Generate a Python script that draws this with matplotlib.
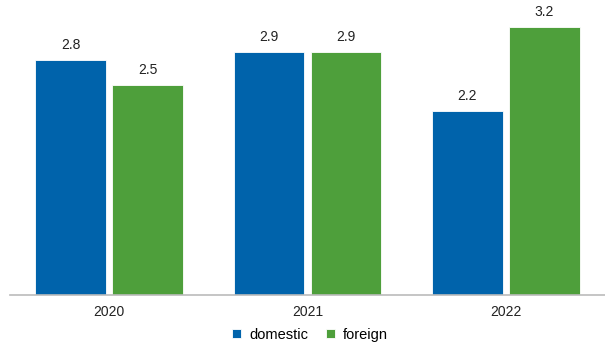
import numpy as np
import matplotlib as mpl
mpl.use('Agg')
import matplotlib.pyplot as plt

years = ['2020', '2021', '2022']
domestic = [2.8, 2.9, 2.2]
foreign = [2.5, 2.9, 3.2]

c_dom = '#0063ab'
c_for = '#4e9f3b'

mpl.rcParams.update({'font.family': ['Liberation Sans', 'DejaVu Sans'], 'font.size': 10})

fig = plt.figure(figsize=(6.05, 3.46), dpi=100)
ax = fig.add_axes([10 / 605, 51 / 346, 595 / 605, 295 / 346])

x = np.arange(len(years))
w = 0.355
off = 0.194
b1 = ax.bar(x - off, domestic, w, color=c_dom, edgecolor='white', linewidth=0.6, label='domestic')
b2 = ax.bar(x + off, foreign, w, color=c_for, edgecolor='white', linewidth=0.6, label='foreign')

for bars, vals in ((b1, domestic), (b2, foreign)):
    for b, v in zip(bars, vals):
        ax.annotate(f'{v:.1f}', (b.get_x() + b.get_width() / 2, v),
                    xytext=(0, 10.8), textcoords='offset points',
                    ha='center', va='center', fontsize=10, color='#222222')

ax.set_xlim(-0.5, 2.5)
ax.set_ylim(0, 3.52)
ax.set_xticks(x)
ax.set_xticklabels(years)
ax.tick_params(axis='x', length=0, pad=7, colors='#222222', labelsize=10)
ax.set_yticks([])
for s in ['top', 'right', 'left']:
    ax.spines[s].set_visible(False)
ax.spines['bottom'].set_color('#bbbbbb')
ax.spines['bottom'].set_linewidth(1.2)

fig.legend(handles=[b1, b2], loc='center', bbox_to_anchor=(310 / 605, 1 - 335 / 346),
           ncol=2, frameon=False, handlelength=0.6, handleheight=0.6,
           handletextpad=0.6, columnspacing=1.2, fontsize=10.5)

fig.savefig('out.png', dpi=100)
